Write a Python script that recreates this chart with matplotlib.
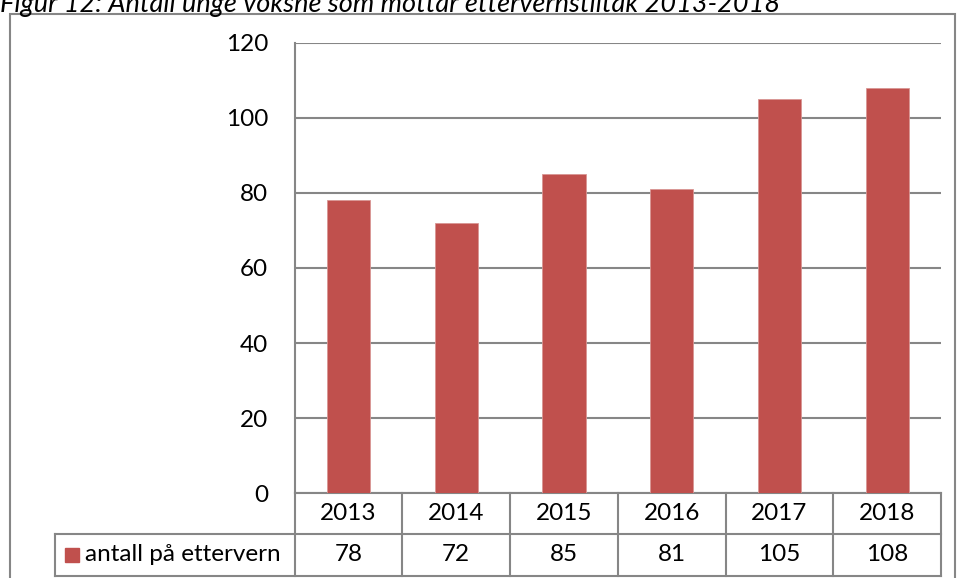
import matplotlib.pyplot as plt
from matplotlib.patches import Rectangle

plt.rcParams['font.family'] = ['Lato', 'DejaVu Sans']

title = 'Figur 12: Antall unge voksne som mottar ettervernstiltak 2013-2018'
years = ['2013', '2014', '2015', '2016', '2017', '2018']
antall = [78, 72, 85, 81, 105, 108]
series_name = 'antall på ettervern'
yticks = [0, 20, 40, 60, 80, 100, 120]

bar_color = '#C0504D'
grid_color = '#868686'
fs = 17.5

W, H = 957, 578
fig = plt.figure(figsize=(W / 100, H / 100), dpi=100)

# outer chart border (bottom runs off the image)
fig.patches.append(Rectangle((10 / W, -0.05), (955 - 10) / W, 1.05 - 14 / H,
                             transform=fig.transFigure, fill=False,
                             edgecolor=grid_color, lw=1.5))
fig.text(0.0, 1 - 12 / H, title, fontsize=19.5, style='italic', va='baseline')

ax_l, ax_r, ax_t, ax_b = 294.7, 941, 42.7, 493.3
ax = fig.add_axes([ax_l / W, 1 - ax_b / H, (ax_r - ax_l) / W, (ax_b - ax_t) / H])

x = list(range(len(years)))
ax.bar(x, antall, width=0.4, color=bar_color, edgecolor='#D99694', lw=0.6, zorder=3)
ax.set_xlim(-0.5, len(years) - 0.5)
ax.set_ylim(0, 120)
ax.set_yticks(yticks)
ax.set_xticks([])
ax.tick_params(axis='y', length=0, pad=19, labelsize=fs)
ax.yaxis.grid(True, color=grid_color, lw=1.5, zorder=0)
for s in ['top', 'right', 'bottom']:
    ax.spines[s].set_visible(False)
ax.spines['left'].set_color(grid_color)
ax.spines['left'].set_linewidth(1.5)

# data table below the plot
ax_h = ax_b - ax_t
row1 = -(534 - ax_b) / ax_h
row2 = -(575.7 - ax_b) / ax_h
leg_left = (55 - ax_l) / (ax_r - ax_l)
trans = ax.get_xaxis_transform()
lk = dict(color=grid_color, lw=1.5, clip_on=False)

ax.plot([-0.5, len(years) - 0.5], [0, 0], transform=trans, **lk)
for i in range(len(years) + 1):
    ax.plot([i - 0.5, i - 0.5], [0, row2], transform=trans, **lk)
for yy in [row1, row2]:
    ax.plot([leg_left, 1], [yy, yy], transform=ax.transAxes, **lk)
ax.plot([leg_left, leg_left], [row1, row2], transform=ax.transAxes, **lk)

for i, (yr, v) in enumerate(zip(years, antall)):
    ax.text(i, row1 / 2, yr, transform=trans, ha='center', va='center', fontsize=fs)
    ax.text(i, (row1 + row2) / 2, str(v), transform=trans, ha='center', va='center', fontsize=fs)

mid = (row1 + row2) / 2
ax.add_patch(Rectangle((leg_left + 10 / (ax_r - ax_l), mid - 7 / ax_h),
                       14 / (ax_r - ax_l), 14 / ax_h, transform=ax.transAxes,
                       color=bar_color, clip_on=False))
ax.text(leg_left + 30 / (ax_r - ax_l), mid, series_name, transform=ax.transAxes,
        ha='left', va='center', fontsize=fs)

fig.savefig('out.png', dpi=100)
